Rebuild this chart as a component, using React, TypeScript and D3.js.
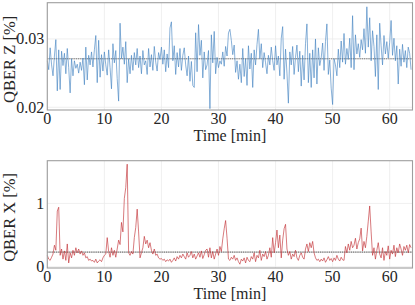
import React from 'react';
import * as d3 from 'd3';

// sampled every 15 s
const sampleStep = 0.25;

const qberZ = [
  0.0268, 0.0255, 0.0287, 0.0262, 0.0246, 0.0275, 0.0299, 0.0224, 0.0284, 0.0226, 0.0282, 0.0261, 0.0279, 0.0249, 0.0286, 0.0258,
  0.0221, 0.0271, 0.0246, 0.0268, 0.0257, 0.0263, 0.0250, 0.0266, 0.0254, 0.0272, 0.0233, 0.0288, 0.0240, 0.0276, 0.0262, 0.0281,
  0.0259, 0.0284, 0.0305, 0.0236, 0.0298, 0.0244, 0.0277, 0.0253, 0.0281, 0.0262, 0.0247, 0.0284, 0.0258, 0.0227, 0.0293, 0.0265,
  0.0283, 0.0242, 0.0209, 0.0323, 0.0271, 0.0288, 0.0263, 0.0296, 0.0236, 0.0271, 0.0249, 0.0276, 0.0254, 0.0280, 0.0262, 0.0286,
  0.0258, 0.0275, 0.0249, 0.0283, 0.0262, 0.0268, 0.0248, 0.0286, 0.0259, 0.0277, 0.0254, 0.0289, 0.0266, 0.0253, 0.0280, 0.0270,
  0.0288, 0.0263, 0.0284, 0.0252, 0.0278, 0.0258, 0.0316, 0.0325, 0.0268, 0.0290, 0.0248, 0.0280, 0.0259, 0.0286, 0.0254, 0.0276,
  0.0287, 0.0262, 0.0246, 0.0275, 0.0238, 0.0267, 0.0232, 0.0229, 0.0309, 0.0252, 0.0321, 0.0276, 0.0298, 0.0243, 0.0281, 0.0255,
  0.0262, 0.0283, 0.0198, 0.0306, 0.0265, 0.0311, 0.0249, 0.0273, 0.0258, 0.0268, 0.0263, 0.0281, 0.0260, 0.0289, 0.0275, 0.0309,
  0.0314, 0.0298, 0.0277, 0.0291, 0.0251, 0.0268, 0.0241, 0.0263, 0.0236, 0.0286, 0.0245, 0.0271, 0.0232, 0.0290, 0.0256, 0.0279,
  0.0229, 0.0284, 0.0262, 0.0292, 0.0314, 0.0271, 0.0293, 0.0258, 0.0280, 0.0265, 0.0249, 0.0276, 0.0262, 0.0288, 0.0268, 0.0254,
  0.0290, 0.0262, 0.0275, 0.0246, 0.0301, 0.0318, 0.0241, 0.0285, 0.0250, 0.0206, 0.0281, 0.0262, 0.0289, 0.0248, 0.0273, 0.0291,
  0.0252, 0.0282, 0.0231, 0.0276, 0.0240, 0.0293, 0.0322, 0.0236, 0.0279, 0.0229, 0.0284, 0.0243, 0.0300, 0.0234, 0.0287, 0.0261,
  0.0272, 0.0294, 0.0254, 0.0296, 0.0322, 0.0248, 0.0269, 0.0228, 0.0204, 0.0271, 0.0262, 0.0246, 0.0285, 0.0258, 0.0297, 0.0266,
  0.0308, 0.0263, 0.0286, 0.0270, 0.0301, 0.0258, 0.0334, 0.0255, 0.0306, 0.0278, 0.0293, 0.0273, 0.0299, 0.0284, 0.0315, 0.0279,
  0.0347, 0.0288, 0.0331, 0.0268, 0.0312, 0.0289, 0.0245, 0.0306, 0.0226, 0.0323, 0.0290, 0.0262, 0.0305, 0.0278, 0.0296, 0.0272,
  0.0295, 0.0327, 0.0276, 0.0301, 0.0268, 0.0290, 0.0234, 0.0285, 0.0260, 0.0292, 0.0266, 0.0283, 0.0258, 0.0288, 0.0279, 0.0255,
];

const qberX = [
  0.18, 0.12, 0.10, 0.15, 0.20, 0.34, 0.26, 0.88, 0.94, 0.18, 0.28, 0.12, 0.25, 0.10, 0.36, 0.06,
  0.22, 0.14, 0.26, 0.18, 0.30, 0.22, 0.28, 0.20, 0.25, 0.18, 0.22, 0.14, 0.16, 0.10, 0.12, 0.09,
  0.10, 0.07, 0.12, 0.06, 0.09, 0.11, 0.08, 0.14, 0.18, 0.20, 0.46, 0.24, 0.15, 0.30, 0.18, 0.26,
  0.15, 0.28, 0.42, 0.35, 0.70, 0.55, 1.08, 1.25, 1.62, 0.22, 0.18, 0.24, 0.20, 0.46, 0.62, 0.91,
  0.55, 0.14, 0.22, 0.30, 0.48, 0.36, 0.42, 0.30, 0.38, 0.26, 0.20, 0.28, 0.18, 0.20, 0.14, 0.12,
  0.13, 0.10, 0.12, 0.08, 0.11, 0.09, 0.12, 0.07, 0.10, 0.14, 0.09, 0.16, 0.12, 0.18, 0.14, 0.20,
  0.16, 0.12, 0.22, 0.15, 0.18, 0.24, 0.14, 0.20, 0.12, 0.17, 0.22, 0.15, 0.25, 0.13, 0.19, 0.26,
  0.28, 0.15, 0.30, 0.14, 0.24, 0.12, 0.20, 0.28, 0.18, 0.32, 0.24, 0.44, 0.60, 0.73, 0.45, 0.12,
  0.10, 0.15, 0.12, 0.18, 0.10, 0.14, 0.08, 0.04, 0.12, 0.09, 0.14, 0.06, 0.15, 0.10, 0.08, 0.16,
  0.12, 0.22, 0.08, 0.18, 0.14, 0.26, 0.10, 0.20, 0.16, 0.24, 0.12, 0.18, 0.30, 0.15, 0.46, 0.22,
  0.38, 0.58, 0.30, 0.50, 0.14, 0.42, 0.60, 0.67, 0.28, 0.18, 0.24, 0.12, 0.20, 0.16, 0.26, 0.14,
  0.10, 0.18, 0.22, 0.15, 0.12, 0.28, 0.36, 0.24, 0.38, 0.30, 0.40, 0.22, 0.14, 0.10, 0.12, 0.08,
  0.12, 0.09, 0.14, 0.07, 0.11, 0.16, 0.10, 0.13, 0.08, 0.14, 0.10, 0.18, 0.12, 0.09, 0.15, 0.11,
  0.10, 0.32, 0.22, 0.36, 0.26, 0.40, 0.30, 0.34, 0.45, 0.28, 0.38, 0.44, 0.61, 0.25, 0.40, 0.30,
  0.48, 0.72, 0.96, 0.55, 0.18, 0.30, 0.12, 0.26, 0.38, 0.20, 0.14, 0.30, 0.10, 0.24, 0.18, 0.33,
  0.12, 0.26, 0.20, 0.34, 0.16, 0.30, 0.22, 0.36, 0.28, 0.18, 0.32, 0.26, 0.34, 0.22, 0.35, 0.30,
];

const meanZ = 0.0271;
const meanX = 0.23;
const xTicks = [0, 10, 20, 30, 40, 50, 60];
const zTicks = [0.02, 0.03];
const xQTicks = [0, 1];

const font = '"Liberation Serif", "DejaVu Serif", serif';

function Panel({ top, bottom, values, domain, ticks, tickFmt, mean, color, label }) {
  const left = 47.3;
  const right = 412.5;
  const x = d3.scaleLinear().domain([0, 64]).range([left, right]);
  const y = d3.scaleLinear().domain(domain).range([bottom, top]);
  const line = d3.line().x((d, i) => x(i * sampleStep)).y(d => y(d));

  return (
    <g>
      {xTicks.map(t => (
        <line key={'gx' + t} x1={x(t)} x2={x(t)} y1={top} y2={bottom} stroke="#ebebeb" strokeWidth={0.8} />
      ))}
      {ticks.map(t => (
        <line key={'gy' + t} x1={left} x2={right} y1={y(t)} y2={y(t)} stroke="#ebebeb" strokeWidth={0.8} />
      ))}
      <line x1={left} x2={right} y1={y(mean)} y2={y(mean)} stroke="#c8c8c8" strokeWidth={1.2} />
      <line x1={left} x2={right} y1={y(mean)} y2={y(mean)} stroke="#777" strokeWidth={1.2} strokeDasharray="1,1.2" />
      <path d={line(values)} fill="none" stroke={color} strokeWidth={0.75} strokeOpacity={0.85} strokeLinejoin="round" />
      <rect x={left} y={top} width={right - left} height={bottom - top} fill="none" stroke="#9e9e9e" strokeWidth={1.1} />
      {xTicks.map(t => (
        <text key={'tx' + t} x={x(t)} y={bottom + 13.5} textAnchor="middle" fontSize={16} fontFamily={font} fill="#262626">{t}</text>
      ))}
      {ticks.map(t => (
        <text key={'ty' + t} x={left - 3} y={y(t) + 5.5} textAnchor="end" fontSize={16} fontFamily={font} fill="#262626">{tickFmt(t)}</text>
      ))}
      <text x={(left + right) / 2} y={bottom + 31} textAnchor="middle" fontSize={16} fontFamily={font} fill="#262626">Time [min]</text>
      <text transform={`translate(15, ${(top + bottom) / 2 + 3}) rotate(-90)`} textAnchor="middle" fontSize={16.5} fontFamily={font} fill="#262626">{label}</text>
    </g>
  );
}

export default function App() {
  return (
    <svg width={415} height={305} style={{ position: 'absolute', left: 0, top: 0, background: '#fff' }}>
      <Panel top={2.7} bottom={110} values={qberZ} domain={[0.0196, 0.0353]} ticks={zTicks}
        tickFmt={d3.format('.2f')} mean={meanZ} color="#4585c2" label="QBER Z [%]" />
      <Panel top={160.7} bottom={268} values={qberX} domain={[-0.02, 1.675]} ticks={xQTicks}
        tickFmt={d3.format('d')} mean={meanX} color="#c23034" label="QBER X [%]" />
    </svg>
  );
}
